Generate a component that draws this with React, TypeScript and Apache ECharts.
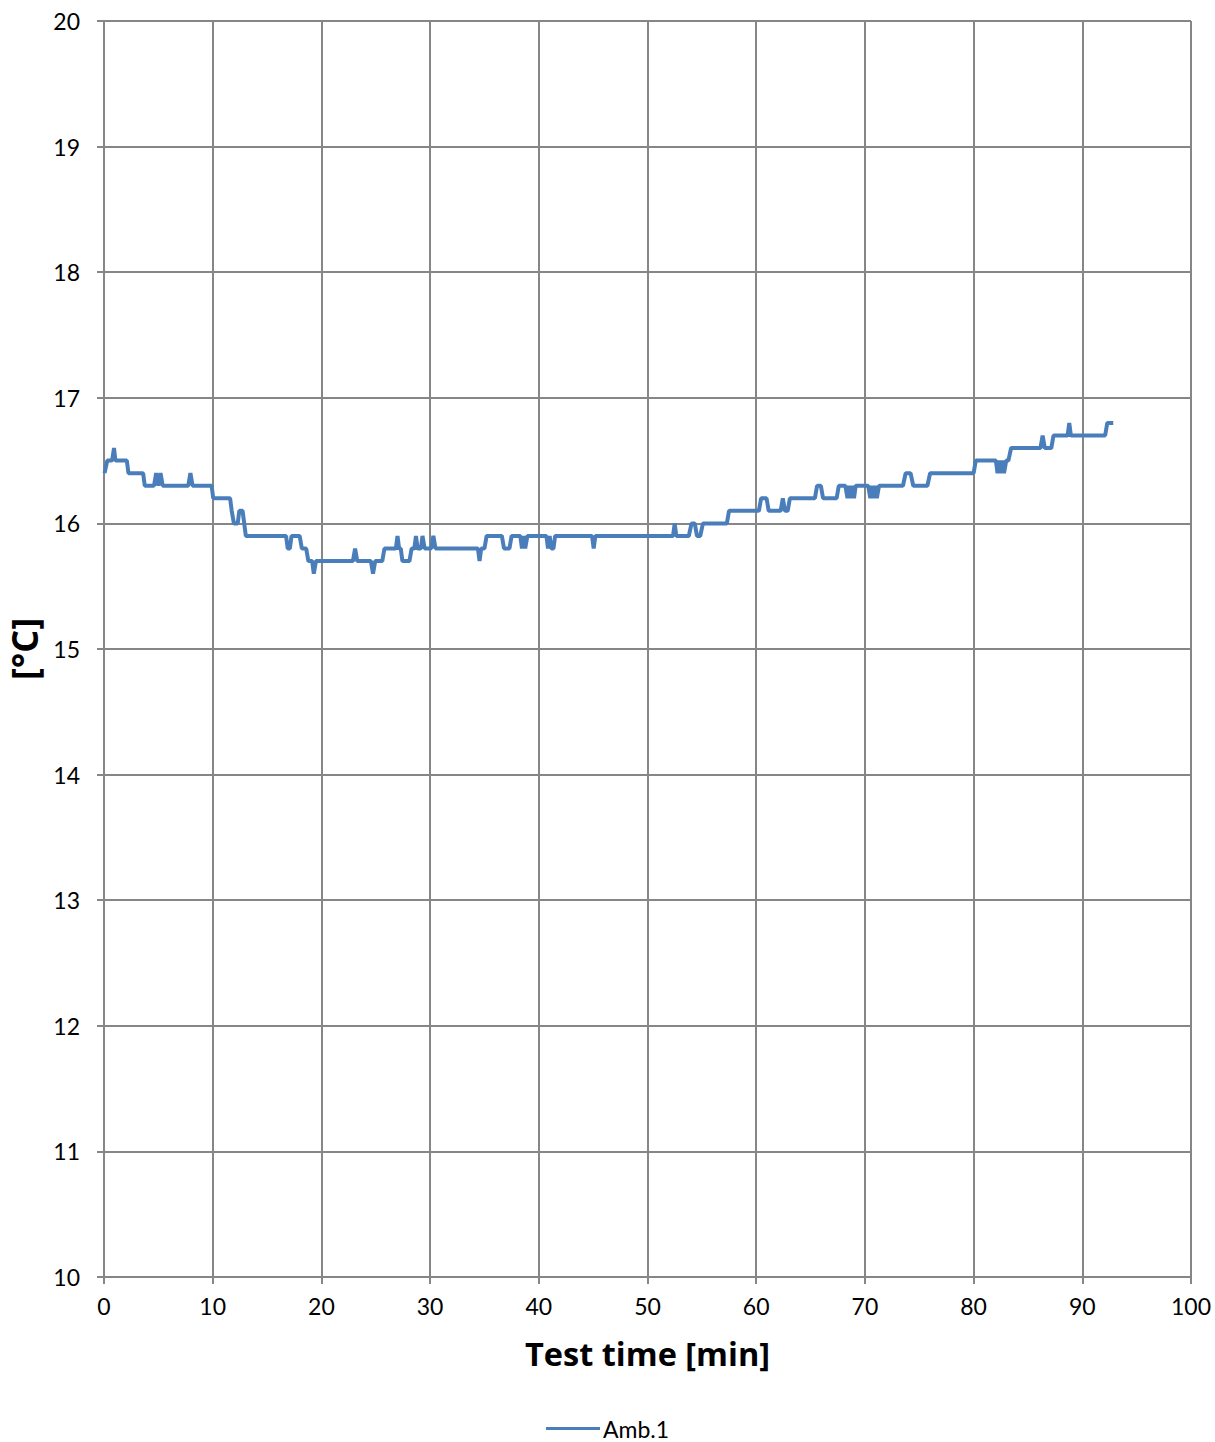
import React, { useEffect, useRef } from "react";
import * as echarts from "echarts";

const xTicks = [0, 10, 20, 30, 40, 50, 60, 70, 80, 90, 100];
const yTicks = [10, 11, 12, 13, 14, 15, 16, 17, 18, 19, 20];
const seriesName = "Amb.1";

const times = [
  0.05, 0.3, 0.75, 0.92, 1.05, 2.1, 2.25, 3.6, 3.75, 4.6, 4.8, 5.0, 5.2, 5.4,
  7.75, 7.95, 8.15, 9.9, 10.05, 11.6, 11.75, 11.95, 12.3, 12.45, 12.75, 13.05,
  16.75, 16.9, 17.1, 17.25, 18.0, 18.2, 18.6, 18.8, 19.15, 19.3, 19.5,
  22.9, 23.1, 23.3, 24.55, 24.75, 24.95, 25.6, 25.8,
  26.85, 27.0, 27.15, 27.3, 27.45, 28.1, 28.3, 28.55, 28.7, 28.85, 29.15, 29.3, 29.5, 30.1, 30.3, 30.5,
  34.4, 34.55, 34.7, 35.0, 35.2, 36.6, 36.8, 37.3, 37.5,
  38.3, 38.45, 38.6, 38.75, 38.95, 40.7, 40.85, 41.0, 41.15, 41.35, 41.5,
  44.9, 45.05, 45.2, 52.35, 52.5, 52.65,
  53.8, 54.05, 54.35, 54.55, 54.85, 55.1, 57.3, 57.5,
  60.25, 60.45, 60.95, 61.15, 62.25, 62.45, 62.65, 62.9, 63.1,
  65.4, 65.6, 65.95, 66.15,
  67.4, 67.6, 68.2, 68.4, 68.55, 68.7, 68.85, 69.0, 69.15,
  70.3, 70.5, 70.65, 70.8, 70.95, 71.1, 71.3,
  73.5, 73.75, 74.2, 74.45, 75.75, 76.0, 80.0, 80.2,
  82.05, 82.2, 82.35, 82.5, 82.65, 82.8, 83.0, 83.2, 83.45,
  86.15, 86.35, 86.55, 87.15, 87.35, 88.65, 88.8, 88.95, 92.1, 92.3, 92.85,
];

const temps = [
  16.4, 16.5, 16.5, 16.6, 16.5, 16.5, 16.4, 16.4, 16.3, 16.3, 16.4, 16.3, 16.4, 16.3,
  16.3, 16.4, 16.3, 16.3, 16.2, 16.2, 16.1, 16.0, 16.0, 16.1, 16.1, 15.9,
  15.9, 15.8, 15.8, 15.9, 15.9, 15.8, 15.8, 15.7, 15.7, 15.6, 15.7,
  15.7, 15.8, 15.7, 15.7, 15.6, 15.7, 15.7, 15.8,
  15.8, 15.9, 15.8, 15.8, 15.7, 15.7, 15.8, 15.8, 15.9, 15.8, 15.8, 15.9, 15.8, 15.8, 15.9, 15.8,
  15.8, 15.7, 15.8, 15.8, 15.9, 15.9, 15.8, 15.8, 15.9,
  15.9, 15.8, 15.9, 15.8, 15.9, 15.9, 15.8, 15.9, 15.8, 15.8, 15.9,
  15.9, 15.8, 15.9, 15.9, 16.0, 15.9,
  15.9, 16.0, 16.0, 15.9, 15.9, 16.0, 16.0, 16.1,
  16.1, 16.2, 16.2, 16.1, 16.1, 16.2, 16.1, 16.1, 16.2,
  16.2, 16.3, 16.3, 16.2,
  16.2, 16.3, 16.3, 16.2, 16.3, 16.2, 16.3, 16.2, 16.3,
  16.3, 16.2, 16.3, 16.2, 16.3, 16.2, 16.3,
  16.3, 16.4, 16.4, 16.3, 16.3, 16.4, 16.4, 16.5,
  16.5, 16.4, 16.5, 16.4, 16.5, 16.4, 16.5, 16.5, 16.6,
  16.6, 16.7, 16.6, 16.6, 16.7, 16.7, 16.8, 16.7, 16.7, 16.8, 16.8,
];

const FONT = "Lato";
const TITLE_FONT = "Open Sans";
const GRID = "#868686";

export default function App() {
  const ref = useRef<HTMLDivElement>(null);
  useEffect(() => {
    if (!ref.current) return;
    const chart = echarts.init(ref.current, undefined, { renderer: "svg" });
    const data = times.map((t, i) => [t, temps[i]]);
    chart.setOption({
      animation: false,
      backgroundColor: "#ffffff",
      textStyle: { fontFamily: FONT },
      grid: {
        left: 104,
        right: 24,
        top: 21,
        bottom: 165,
        containLabel: false,
        outerBoundsMode: "none",
      },
      legend: {
        data: [seriesName],
        left: 546,
        top: 1417,
        padding: 0,
        itemWidth: 54,
        itemHeight: 3,
        itemGap: 4,
        icon: "rect",
        textStyle: { fontFamily: FONT, fontSize: 23, color: "#000", padding: [0, 0, 0, -2] },
      },
      xAxis: {
        type: "value",
        min: xTicks[0],
        max: xTicks[xTicks.length - 1],
        interval: 10,
        name: "Test time [min]",
        nameLocation: "middle",
        nameGap: 60,
        nameTextStyle: { fontFamily: TITLE_FONT, fontSize: 32.5, fontWeight: "bold", color: "#000" },
        axisLine: { show: true, lineStyle: { color: GRID, width: 2 } },
        axisTick: { show: true, length: 7, lineStyle: { color: GRID, width: 2 } },
        axisLabel: { fontFamily: FONT, fontSize: 23, color: "#000", margin: 17 },
        splitLine: { show: true, lineStyle: { color: GRID, width: 2 } },
      },
      yAxis: {
        type: "value",
        min: yTicks[0],
        max: yTicks[yTicks.length - 1],
        interval: 1,
        name: "[°C]",
        nameLocation: "middle",
        nameGap: 62,
        nameTextStyle: { fontFamily: TITLE_FONT, fontSize: 36, fontWeight: "bold", color: "#000" },
        axisLine: { show: true, lineStyle: { color: GRID, width: 2 } },
        axisTick: { show: true, length: 7, lineStyle: { color: GRID, width: 2 } },
        axisLabel: { fontFamily: FONT, fontSize: 23, color: "#000", margin: 24 },
        splitLine: { show: true, lineStyle: { color: GRID, width: 2 } },
      },
      series: [
        {
          name: seriesName,
          type: "line",
          data,
          symbol: "none",
          lineStyle: { color: "#4a7ebb", width: 4 },
          itemStyle: { color: "#4a7ebb" },
        },
      ],
    });
    return () => chart.dispose();
  }, []);
  return (
    <div
      ref={ref}
      style={{ position: "absolute", left: 0, top: 0, width: 1215, height: 1442 }}
    />
  );
}
